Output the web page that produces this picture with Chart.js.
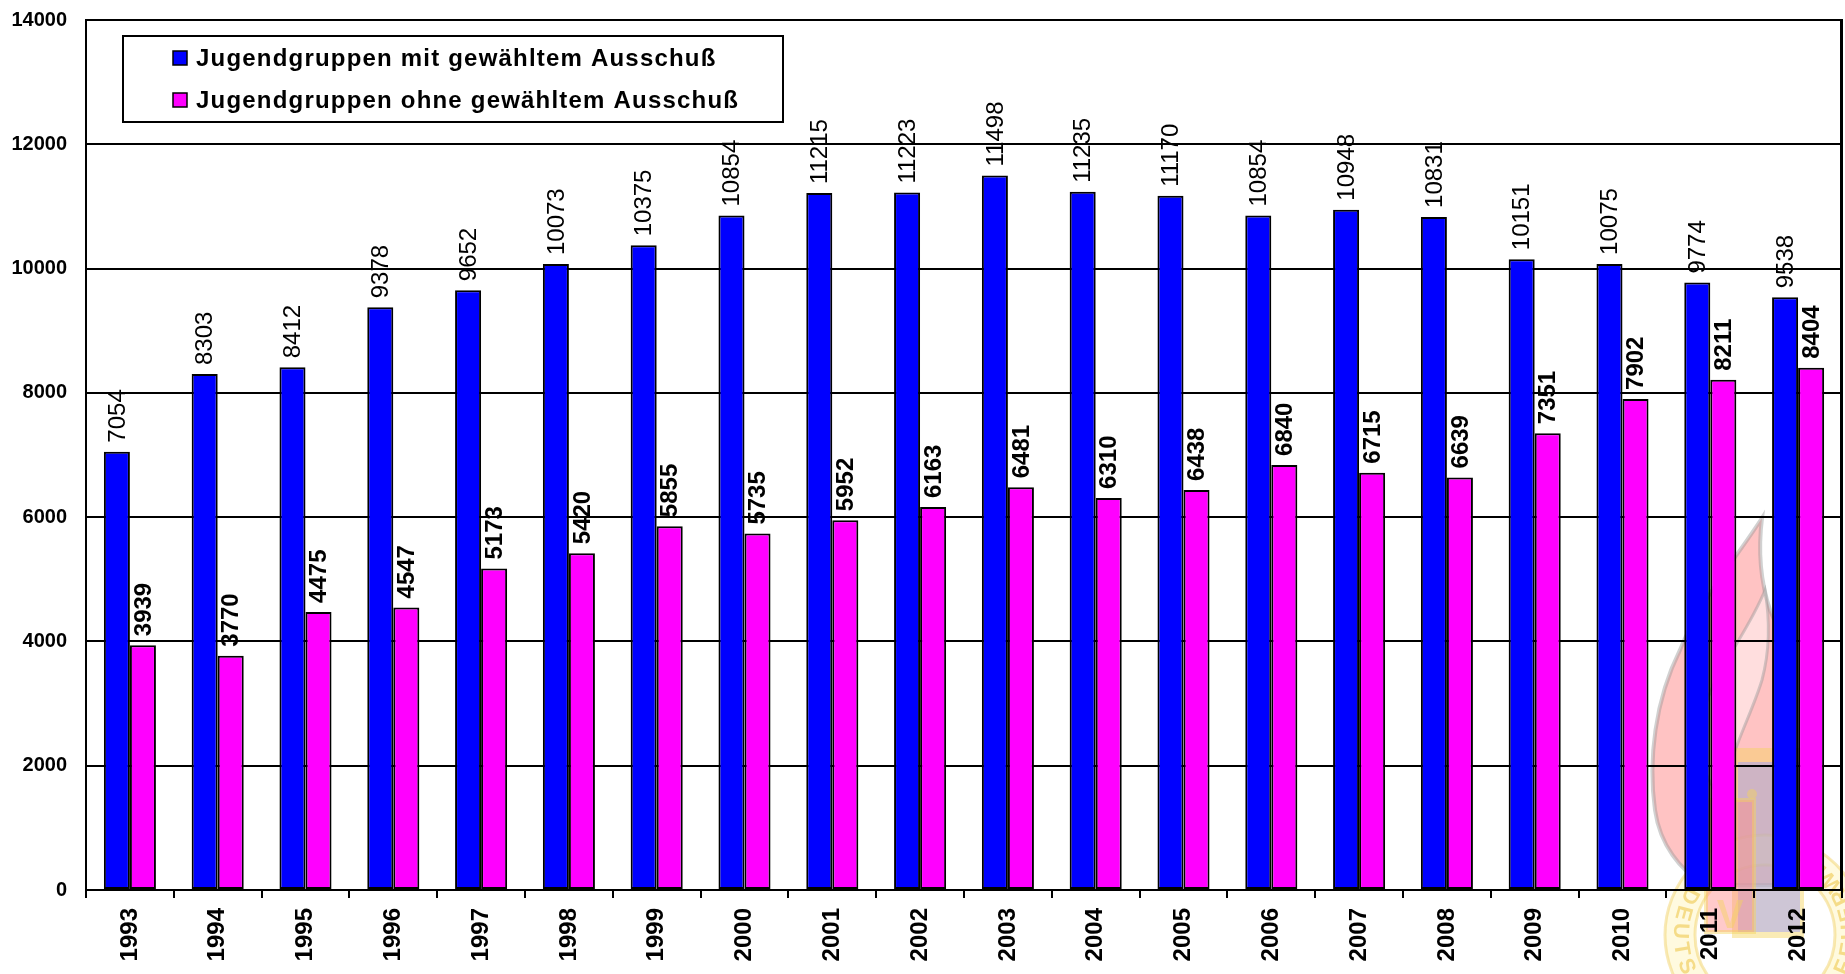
<!DOCTYPE html>
<html lang="de">
<head>
<meta charset="utf-8">
<title>Jugendgruppen mit / ohne gewähltem Ausschuß</title>
<script src="https://cdn.jsdelivr.net/npm/chart.js@4.4.1/dist/chart.umd.min.js"></script>
<style>
  html, body { margin: 0; padding: 0; background: #fff; }
  #wrap { width: 1845px; height: 974px; position: relative; }
</style>
</head>
<body>
<div id="wrap"><canvas id="chart"></canvas></div>
<script>
// Jahre und Werte
const years = ['1993', '1994', '1995', '1996', '1997', '1998', '1999', '2000', '2001', '2002',
               '2003', '2004', '2005', '2006', '2007', '2008', '2009', '2010', '2011', '2012'];
const mitAusschuss = [7054, 8303, 8412, 9378, 9652, 10073, 10375, 10854, 11215, 11223,
                      11498, 11235, 11170, 10854, 10948, 10831, 10151, 10075, 9774, 9538];
const ohneAusschuss = [3939, 3770, 4475, 4547, 5173, 5420, 5855, 5735, 5952, 6163,
                       6481, 6310, 6438, 6840, 6715, 6639, 7351, 7902, 8211, 8404];
const yMax = 14000;
const yStep = 2000;

const FONT = '"Liberation Sans", Arial, Helvetica, sans-serif';

// faint emblem in the lower right corner, drawn behind everything
function drawEmblem(ctx) {
    ctx.save();
    ctx.globalAlpha = 0.45;

    // flame
    ctx.beginPath();
    ctx.moveTo(1762, 518);
    ctx.bezierCurveTo(1735, 560, 1700, 600, 1680, 650);
    ctx.bezierCurveTo(1655, 700, 1648, 760, 1655, 810);
    ctx.bezierCurveTo(1660, 845, 1680, 870, 1705, 885);
    ctx.lineTo(1790, 885);
    ctx.bezierCurveTo(1775, 840, 1768, 790, 1778, 740);
    ctx.bezierCurveTo(1790, 690, 1785, 640, 1770, 610);
    ctx.bezierCurveTo(1760, 580, 1758, 550, 1762, 518);
    ctx.closePath();
    ctx.fillStyle = '#ff7a7a';
    ctx.fill();
    ctx.lineWidth = 4;
    ctx.strokeStyle = '#9a9a9a';
    ctx.stroke();

    // inner tongue
    ctx.beginPath();
    ctx.moveTo(1765, 590);
    ctx.bezierCurveTo(1745, 640, 1705, 680, 1700, 730);
    ctx.bezierCurveTo(1697, 760, 1710, 790, 1725, 800);
    ctx.bezierCurveTo(1725, 760, 1750, 720, 1762, 680);
    ctx.bezierCurveTo(1770, 650, 1770, 620, 1765, 590);
    ctx.closePath();
    ctx.fillStyle = '#ffffff';
    ctx.fill();
    ctx.lineWidth = 3;
    ctx.stroke();

    // seal ring
    const cx = 1765, cy = 935;
    ctx.beginPath();
    ctx.arc(cx, cy, 100, 0, Math.PI * 2);
    ctx.arc(cx, cy, 70, 0, Math.PI * 2, true);
    ctx.fillStyle = '#fff3b8';
    ctx.fill('evenodd');
    ctx.lineWidth = 3;
    ctx.strokeStyle = '#f0cf60';
    ctx.beginPath();
    ctx.arc(cx, cy, 100, 0, Math.PI * 2);
    ctx.stroke();
    ctx.beginPath();
    ctx.arc(cx, cy, 70, 0, Math.PI * 2);
    ctx.stroke();

    const ringText = 'DEUTSCHE JUGENDFEUERWEHR';
    ctx.fillStyle = '#e8b820';
    ctx.font = 'bold 22px ' + FONT;
    ctx.textAlign = 'center';
    ctx.textBaseline = 'middle';
    let angle = 3.62;
    for (const ch of ringText) {
        const a = angle;
        ctx.save();
        ctx.translate(cx + 85 * Math.cos(a), cy + 85 * Math.sin(a));
        ctx.rotate(a - Math.PI / 2);
        ctx.fillText(ch, 0, 0);
        ctx.restore();
        angle -= 0.215;
    }

    // shield
    ctx.fillStyle = '#f5d25a';
    ctx.fillRect(1732, 748, 72, 190);
    ctx.fillStyle = '#9a9aff';
    ctx.fillRect(1738, 762, 62, 170);
    ctx.fillStyle = '#ff8a8a';
    ctx.fillRect(1706, 800, 48, 132);
    ctx.lineWidth = 4;
    ctx.strokeStyle = '#f5d25a';
    ctx.strokeRect(1706, 800, 48, 132);

    // letters on the shield
    ctx.fillStyle = '#f5d25a';
    ctx.font = 'bold 40px ' + FONT;
    ctx.textAlign = 'center';
    ctx.textBaseline = 'alphabetic';
    ctx.fillText('V', 1730, 928);
    ctx.beginPath();
    ctx.arc(1752, 794, 5, 0, Math.PI * 2);
    ctx.fill();

    ctx.restore();
}

const backgroundPlugin = {
    id: 'background',
    beforeDraw(chart) {
        const ctx = chart.ctx;
        ctx.save();
        ctx.fillStyle = '#ffffff';
        ctx.fillRect(0, 0, chart.width, chart.height);
        ctx.restore();
        drawEmblem(ctx);
    }
};

// right-hand and top frame of the plot area
const framePlugin = {
    id: 'frame',
    beforeDatasetsDraw(chart) {
        const { ctx, chartArea } = chart;
        ctx.save();
        ctx.strokeStyle = '#000';
        ctx.lineWidth = 2;
        ctx.beginPath();
        ctx.moveTo(chartArea.left, chartArea.top);
        ctx.lineTo(chartArea.right, chartArea.top);
        ctx.stroke();
        ctx.lineWidth = 3;
        ctx.beginPath();
        ctx.moveTo(chartArea.right - 0.5, chartArea.top - 1);
        ctx.lineTo(chartArea.right - 0.5, chartArea.bottom + 1);
        ctx.stroke();
        ctx.restore();
    }
};

// rotated value labels above each bar
const valueLabelPlugin = {
    id: 'valueLabels',
    afterDatasetsDraw(chart) {
        const ctx = chart.ctx;
        chart.data.datasets.forEach((ds, i) => {
            const meta = chart.getDatasetMeta(i);
            ctx.save();
            ctx.fillStyle = '#000';
            ctx.font = (i === 1 ? 'bold ' : '') + '24px ' + FONT;
            ctx.textAlign = 'left';
            ctx.textBaseline = 'middle';
            meta.data.forEach((bar, j) => {
                ctx.save();
                ctx.translate(bar.x + 1, bar.y - 9);
                ctx.rotate(-Math.PI / 2);
                ctx.fillText(String(ds.data[j]), 0, 0);
                ctx.restore();
            });
            ctx.restore();
        });
    }
};

// legend box inside the plot area
const legendBoxPlugin = {
    id: 'legendBox',
    afterDraw(chart) {
        const ctx = chart.ctx;
        const box = { x: 123, y: 36, w: 660, h: 86 };
        ctx.save();
        ctx.fillStyle = '#fff';
        ctx.fillRect(box.x, box.y, box.w, box.h);
        ctx.strokeStyle = '#000';
        ctx.lineWidth = 2;
        ctx.strokeRect(box.x, box.y, box.w, box.h);

        ctx.font = 'bold 24px ' + FONT;
        ctx.letterSpacing = '1.2px';
        ctx.textAlign = 'left';
        ctx.textBaseline = 'middle';
        chart.data.datasets.forEach((ds, i) => {
            const rowY = 58 + i * 42;
            ctx.fillStyle = ds.backgroundColor;
            ctx.fillRect(173, rowY - 7, 14, 14);
            ctx.lineWidth = 1.5;
            ctx.strokeStyle = '#000';
            ctx.strokeRect(173, rowY - 7, 14, 14);
            ctx.fillStyle = '#000';
            ctx.fillText(ds.label, 196, rowY + 1);
        });
        ctx.restore();
    }
};

const ctx = document.getElementById('chart').getContext('2d');
new Chart(ctx, {
    type: 'bar',
    data: {
        labels: years,
        datasets: [
            {
                label: 'Jugendgruppen mit gewähltem Ausschuß',
                data: mitAusschuss,
                backgroundColor: '#0000ff',
                borderColor: '#000',
                borderWidth: 2,
                borderSkipped: false
            },
            {
                label: 'Jugendgruppen ohne gewähltem Ausschuß',
                data: ohneAusschuss,
                backgroundColor: '#ff00ff',
                borderColor: '#000',
                borderWidth: 2,
                borderSkipped: false
            }
        ]
    },
    options: {
        responsive: true,
        maintainAspectRatio: false,
        animation: false,
        devicePixelRatio: 1,
        categoryPercentage: 0.593,
        barPercentage: 1,
        layout: { padding: { left: 0, top: 20, right: 3, bottom: 0 } },
        plugins: {
            legend: { display: false },
            tooltip: { enabled: false }
        },
        scales: {
            x: {
                grid: {
                    display: true,
                    drawOnChartArea: false,
                    drawTicks: true,
                    tickLength: 8,
                    color: '#000',
                    lineWidth: 2,
                    offset: true
                },
                border: { display: true, color: '#000', width: 2 },
                ticks: {
                    color: '#000',
                    font: { family: FONT, size: 24, weight: 'bold' },
                    minRotation: 90,
                    maxRotation: 90,
                    autoSkip: false,
                    padding: 10
                },
                afterFit(scale) {
                    scale.height = 84;
                    scale.paddingTop = 0;
                }
            },
            y: {
                min: 0,
                max: yMax,
                grid: {
                    color: '#000',
                    lineWidth: 2,
                    drawTicks: false
                },
                border: { display: true, color: '#000', width: 2 },
                ticks: {
                    stepSize: yStep,
                    color: '#000',
                    font: { family: FONT, size: 20, weight: 'bold' },
                    padding: 19,
                    callback: value => String(value)
                },
                afterFit(scale) {
                    scale.width = 86;
                    scale.paddingTop = 0;
                    scale.paddingBottom = 0;
                }
            }
        }
    },
    plugins: [backgroundPlugin, framePlugin, valueLabelPlugin, legendBoxPlugin]
});
</script>
</body>
</html>
